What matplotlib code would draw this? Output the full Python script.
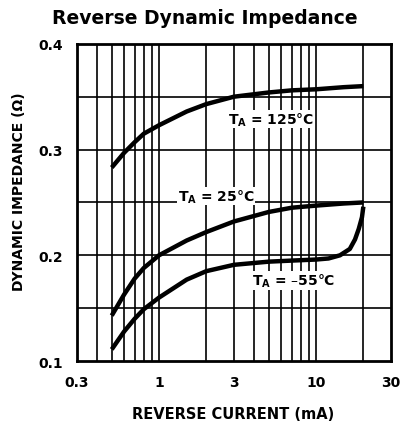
import matplotlib
matplotlib.use("Agg")
import matplotlib.pyplot as plt
from matplotlib.ticker import FixedLocator, NullFormatter, NullLocator

plt.rcParams['font.family'] = ['DejaVu Sans']
plt.rcParams['font.weight'] = 'bold'
plt.rcParams['axes.labelweight'] = 'bold'
plt.rcParams['mathtext.default'] = 'regular'

# reverse current (mA) and dynamic impedance (ohm) read from the sheet
i_125 = [0.5, 0.6, 0.7, 0.8, 1, 1.5, 2, 3, 5, 7, 10, 15, 20]
z_125 = [0.283, 0.297, 0.307, 0.315, 0.323, 0.336, 0.343, 0.350, 0.354, 0.356, 0.357, 0.359, 0.360]

i_25 = [0.5, 0.6, 0.7, 0.8, 1, 1.5, 2, 3, 5, 7, 10, 15, 20]
z_25 = [0.143, 0.163, 0.178, 0.188, 0.200, 0.214, 0.222, 0.232, 0.241, 0.245, 0.247, 0.249, 0.250]

i_m55 = [0.5, 0.6, 0.7, 0.8, 1, 1.5, 2, 3, 5, 7, 10, 12, 14.2, 16.4, 17.7, 18.7, 19.6, 20]
z_m55 = [0.111, 0.128, 0.140, 0.149, 0.160, 0.177, 0.185, 0.191, 0.194, 0.195, 0.196, 0.197, 0.200, 0.206, 0.215, 0.225, 0.236, 0.246]

x_ticks = [0.3, 1, 3, 10, 30]
x_ticklabels = ['0.3', '1', '3', '10', '30']
x_grid = [0.4, 0.5, 0.6, 0.7, 0.8, 0.9, 1, 2, 3, 4, 5, 6, 7, 8, 9, 10, 20]
y_ticks = [0.1, 0.2, 0.3, 0.4]
y_ticklabels = ['0.1', '0.2', '0.3', '0.4']
y_grid = [0.15, 0.2, 0.25, 0.3, 0.35]

fig = plt.figure(figsize=(4.09, 4.31), dpi=100)
ax = fig.add_axes([0.188, 0.160, 0.768, 0.736])
ax.set_xscale('log')
ax.set_xlim(0.3, 30)
ax.set_ylim(0.1, 0.4)

for xv in x_grid:
    ax.axvline(xv, color='black', lw=1.2, zorder=1)
for yv in y_grid:
    ax.axhline(yv, color='black', lw=1.2, zorder=1)

for xs, ys in [(i_125, z_125), (i_25, z_25), (i_m55, z_m55)]:
    ax.plot(xs, ys, color='black', lw=3.2, solid_capstyle='butt', solid_joinstyle='round', zorder=3)

box = dict(facecolor='white', edgecolor='none', pad=0.5)
ax.text(5.2, 0.329, r'T$_A$ = 125°C', ha='center', va='center', fontsize=10, bbox=box, zorder=4)
ax.text(2.3, 0.256, r'T$_A$ = 25°C', ha='center', va='center', fontsize=10, bbox=box, zorder=4)
ax.text(7.2, 0.176, r'T$_A$ = –55°C', ha='center', va='center', fontsize=10, bbox=box, zorder=4)

ax.xaxis.set_major_locator(FixedLocator(x_ticks))
ax.set_xticklabels(x_ticklabels)
ax.xaxis.set_minor_locator(NullLocator())
ax.xaxis.set_minor_formatter(NullFormatter())
ax.set_yticks(y_ticks)
ax.set_yticklabels(y_ticklabels)
ax.tick_params(length=0, labelsize=10, pad=10)

for s in ax.spines.values():
    s.set_linewidth(2)

ax.set_xlabel('REVERSE CURRENT (mA)', fontsize=10.5)
ax.xaxis.set_label_coords(0.497, -0.142)
ax.set_ylabel('DYNAMIC IMPEDANCE (Ω)', fontsize=10)
ax.yaxis.set_label_coords(-0.162, 0.536)
fig.text(0.5, 0.957, 'Reverse Dynamic Impedance', ha='center', va='center',
         fontsize=13.5, fontweight='bold')

fig.savefig('out.png', dpi=100)
